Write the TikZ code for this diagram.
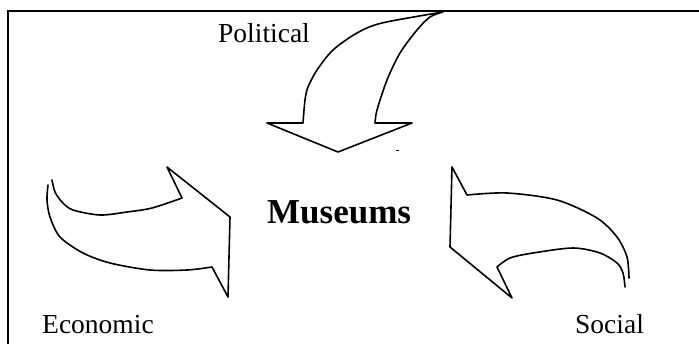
\documentclass[tikz,border=0pt]{standalone}
\usepackage{fontspec}
\setmainfont{Liberation Serif}
\begin{document}
\begin{tikzpicture}[x=1pt,y=-1pt,
  shapeline/.style={draw=black,line width=1.6pt,line join=round,line cap=round},
  framel/.style={draw=black,line width=2.6pt},
  lbl/.style={anchor=base west,inner sep=0pt,font=\fontsize{27.5}{30}\selectfont},
  title/.style={anchor=base west,inner sep=0pt,font=\fontsize{35}{40}\selectfont\bfseries}]
\useasboundingbox (0,0) rectangle (699,343);
\fill[white] (0,0) rectangle (699,343);
% frame (left and top edges visible)
\draw[framel] (8,350) -- (8,11) -- (705,11);
% Political arrow (pointing down)
\draw[shapeline] (443,12) -- plot[smooth] coordinates {(443,12) (382,23) (357,33) (333,50) (317,70) (308,87) (305,100) (303,123)}
  -- (267,123) -- (338,152) -- (412,123) -- (375,123)
  -- plot[smooth] coordinates {(375,123) (377,110) (387,80) (400,53) (417,30) (430,17) (443,12)};
\draw[line width=1pt] (396,150) -- (399,150);
% Economic arrow (pointing right)
\draw[shapeline] (48,185) -- plot[smooth] coordinates {(48,185) (47,200) (50,217) (60,237) (83,253) (110,263) (150,270) (187,270) (212,267)}
  -- (228,297) -- (230,217) -- (167,167) -- (182,198)
  -- plot[smooth] coordinates {(182,198) (152,208) (127,212) (100,215) (73,210) (62,202) (55,192) (52,180)};
% Social arrow (pointing left)
\draw[shapeline] (629,278) -- plot[smooth] coordinates {(629,278) (627,257) (617,237) (597,218) (557,200) (507,193) (467,195)}
  -- (452,167) -- (450,247) -- (512,298) -- (497,267)
  -- plot[smooth] coordinates {(497,267) (510,258) (533,253) (573,248) (600,253) (617,263) (623,273) (625,287)};
% labels
\node[lbl] (political) at (218,42) {Political};
\node[title] (museums) at (267,223) {Museums};
\node[lbl] (economic) at (42,333) {Economic};
\node[lbl] (social) at (575,333) {Social};
\end{tikzpicture}
\end{document}
